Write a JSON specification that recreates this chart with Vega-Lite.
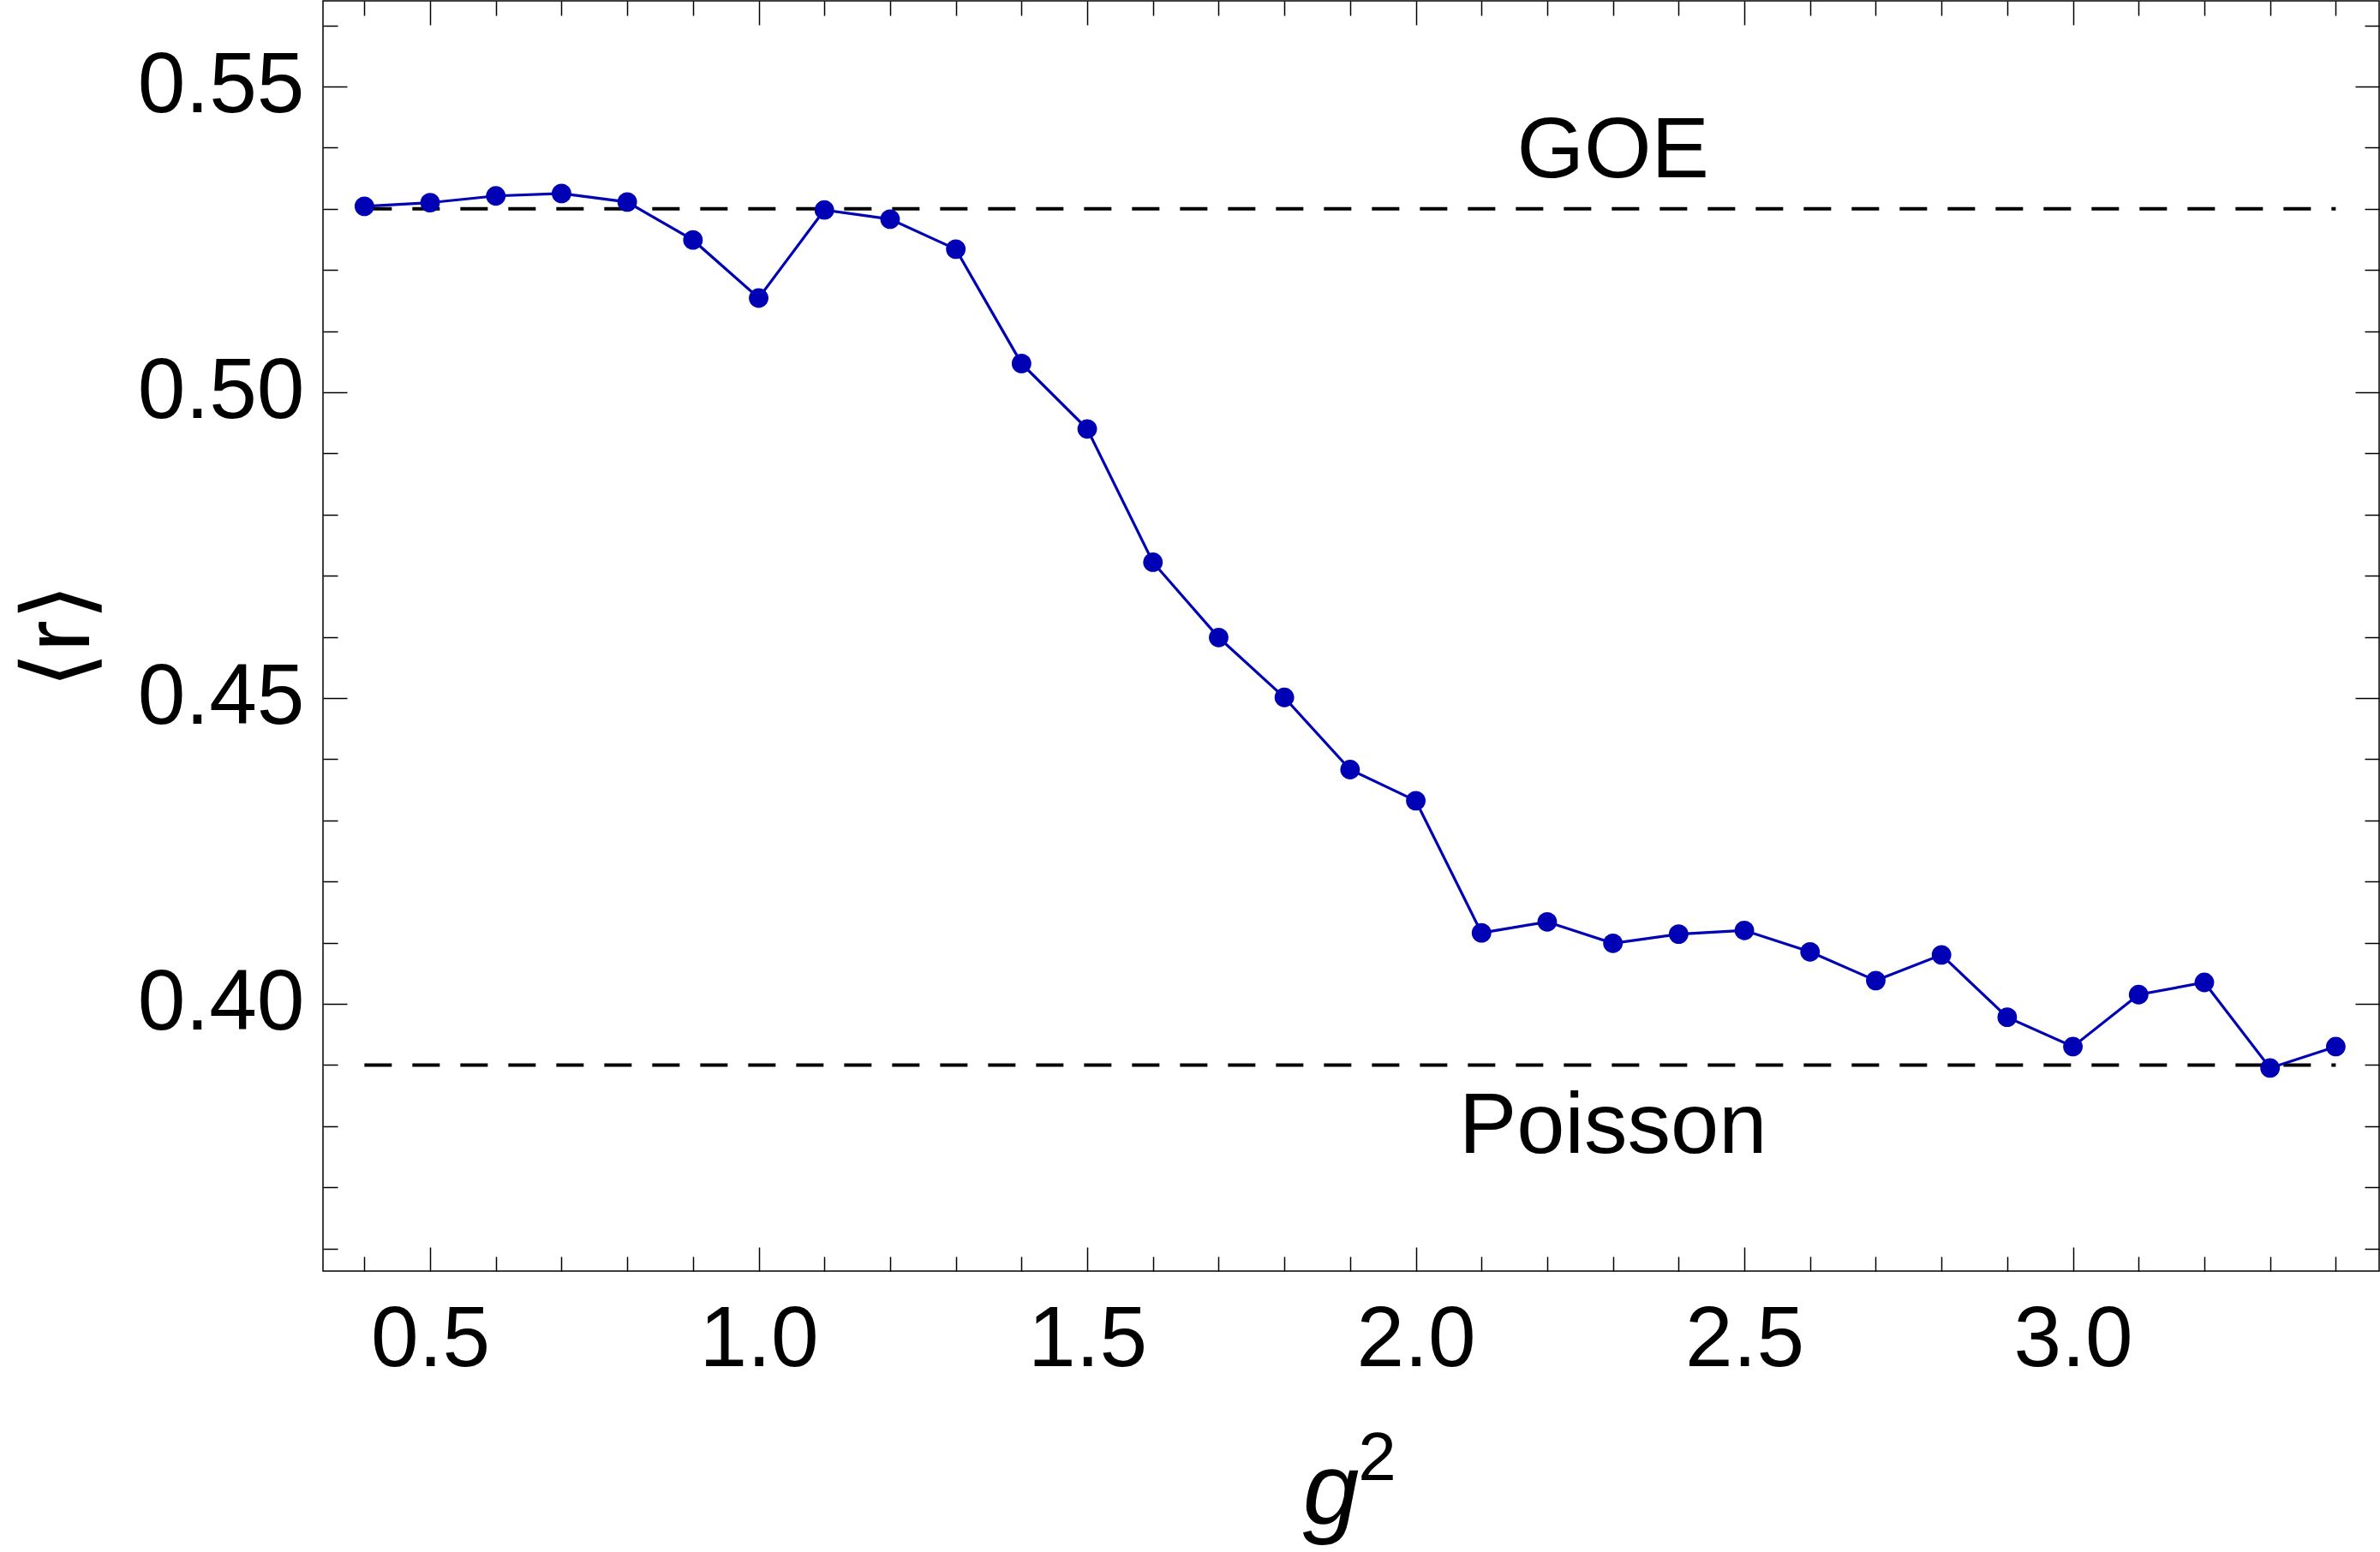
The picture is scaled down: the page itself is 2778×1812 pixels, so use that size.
{
  "$schema": "https://vega.github.io/schema/vega-lite/v6.json",
  "autosize": "none",
  "width": 2400,
  "height": 1483,
  "padding": {"left": 377, "top": 1, "right": 1, "bottom": 328},
  "background": "white",
  "config": {
    "view": {"stroke": "black", "strokeWidth": 1.5},
    "axis": {"grid": false, "domain": false, "labelColor": "black", "titleColor": "black", "tickColor": "black", "labelFont": "Liberation Sans", "titleFont": "Liberation Sans, DejaVu Sans", "labelFlush": false, "labelOverlap": false, "labelLimit": 0}
  },
  "datasets": {
    "series": [
      {"g2": 0.4, "r": 0.5304}, {"g2": 0.5, "r": 0.5310}, {"g2": 0.6, "r": 0.5321}, {"g2": 0.7, "r": 0.5325},
      {"g2": 0.8, "r": 0.5311}, {"g2": 0.9, "r": 0.5249}, {"g2": 1.0, "r": 0.5154}, {"g2": 1.1, "r": 0.5298},
      {"g2": 1.2, "r": 0.5283}, {"g2": 1.3, "r": 0.5234}, {"g2": 1.4, "r": 0.5047}, {"g2": 1.5, "r": 0.4940},
      {"g2": 1.6, "r": 0.4722}, {"g2": 1.7, "r": 0.4599}, {"g2": 1.8, "r": 0.4501}, {"g2": 1.9, "r": 0.4383},
      {"g2": 2.0, "r": 0.4332}, {"g2": 2.1, "r": 0.4116}, {"g2": 2.2, "r": 0.4134}, {"g2": 2.3, "r": 0.4099},
      {"g2": 2.4, "r": 0.4114}, {"g2": 2.5, "r": 0.4120}, {"g2": 2.6, "r": 0.4085}, {"g2": 2.7, "r": 0.4038},
      {"g2": 2.8, "r": 0.4080}, {"g2": 2.9, "r": 0.3978}, {"g2": 3.0, "r": 0.3930}, {"g2": 3.1, "r": 0.4015},
      {"g2": 3.2, "r": 0.4035}, {"g2": 3.3, "r": 0.3895}, {"g2": 3.4, "r": 0.3930}
    ],
    "refs": [
      {"name": "GOE", "r": 0.53, "from": 0.4, "to": 3.4},
      {"name": "Poisson", "r": 0.39, "from": 0.4, "to": 3.4}
    ],
    "labels": [
      {"text": "GOE", "g2": 2.3, "r": 0.5352},
      {"text": "Poisson", "g2": 2.3, "r": 0.3756}
    ]
  },
  "resolve": {"axis": {"x": "independent", "y": "independent"}},
  "layer": [
    {
      "data": {"name": "refs"},
      "mark": {"type": "rule", "color": "black", "strokeWidth": 4, "strokeDash": [32, 24]},
      "encoding": {
        "x": {"field": "from", "type": "quantitative",
          "scale": {"domain": [0.337, 3.466], "nice": false, "zero": false},
          "axis": {"orient": "top", "title": null, "labels": false,
            "values": [0.4,0.5,0.6,0.7,0.8,0.9,1.0,1.1,1.2,1.3,1.4,1.5,1.6,1.7,1.8,1.9,2.0,2.1,2.2,2.3,2.4,2.5,2.6,2.7,2.8,2.9,3.0,3.1,3.2,3.3,3.4],
            "tickWidth": 1.5,
            "tickSize": {"condition": {"test": "round(datum.value*10) % 5 === 0", "value": -28}, "value": -17}}},
        "x2": {"field": "to"},
        "y": {"field": "r", "type": "quantitative",
          "scale": {"domain": [0.3563, 0.5640], "nice": false, "zero": false},
          "axis": {"orient": "right", "title": null, "labels": false,
            "values": [0.36,0.37,0.38,0.39,0.40,0.41,0.42,0.43,0.44,0.45,0.46,0.47,0.48,0.49,0.50,0.51,0.52,0.53,0.54,0.55,0.56],
            "tickWidth": 1.5,
            "tickSize": {"condition": {"test": "round(datum.value*100) % 5 === 0", "value": -28}, "value": -17}}}
      }
    },
    {
      "data": {"name": "series"},
      "mark": {"type": "line", "color": "#0000b4", "strokeWidth": 3.2},
      "encoding": {
        "x": {"field": "g2", "type": "quantitative",
          "axis": {"orient": "bottom", "values": [0.5, 1.0, 1.5, 2.0, 2.5, 3.0], "format": ".1f",
            "ticks": false, "tickSize": 0, "labelFontSize": 100, "labelPadding": 31,
            "title": "g", "titleFontSize": 118, "titleFontStyle": "italic", "titleFontWeight": "normal",
            "titleFont": "Liberation Sans", "titleX": 1176, "titleY": 294, "titleBaseline": "alphabetic", "titleAlign": "center"}},
        "y": {"field": "r", "type": "quantitative",
          "axis": {"orient": "left", "values": [0.40, 0.45, 0.50, 0.55], "format": ".2f",
            "ticks": false, "tickSize": 0, "labelFontSize": 100, "labelPadding": 22,
            "title": "⟨r⟩", "titleFontSize": 110, "titleFontWeight": "normal", "titleAngle": -90,
            "titleX": -307, "titleY": 741, "titleBaseline": "middle", "titleAlign": "center"}}
      }
    },
    {
      "data": {"name": "series"},
      "mark": {"type": "point", "filled": true, "color": "#0000b4", "opacity": 1, "size": 520},
      "encoding": {
        "x": {"field": "g2", "type": "quantitative",
          "axis": {"orient": "bottom", "labels": false,
            "values": [0.4,0.5,0.6,0.7,0.8,0.9,1.0,1.1,1.2,1.3,1.4,1.5,1.6,1.7,1.8,1.9,2.0,2.1,2.2,2.3,2.4,2.5,2.6,2.7,2.8,2.9,3.0,3.1,3.2,3.3,3.4],
            "tickWidth": 1.5,
            "tickSize": {"condition": {"test": "round(datum.value*10) % 5 === 0", "value": -28}, "value": -17},
            "title": "2", "titleFontSize": 80, "titleFontStyle": "normal", "titleFontWeight": "normal",
            "titleFont": "Liberation Sans", "titleX": 1230, "titleY": 243, "titleBaseline": "alphabetic", "titleAlign": "center"}},
        "y": {"field": "r", "type": "quantitative",
          "axis": {"orient": "left", "title": null, "labels": false,
            "values": [0.36,0.37,0.38,0.39,0.40,0.41,0.42,0.43,0.44,0.45,0.46,0.47,0.48,0.49,0.50,0.51,0.52,0.53,0.54,0.55,0.56],
            "tickWidth": 1.5,
            "tickSize": {"condition": {"test": "round(datum.value*100) % 5 === 0", "value": -28}, "value": -17}}}
      }
    },
    {
      "data": {"name": "labels"},
      "mark": {"type": "text", "font": "Liberation Sans", "fontSize": 101, "color": "black", "align": "center", "baseline": "alphabetic"},
      "encoding": {
        "x": {"field": "g2", "type": "quantitative", "axis": null},
        "y": {"field": "r", "type": "quantitative", "axis": null},
        "text": {"field": "text"}
      }
    }
  ]
}
